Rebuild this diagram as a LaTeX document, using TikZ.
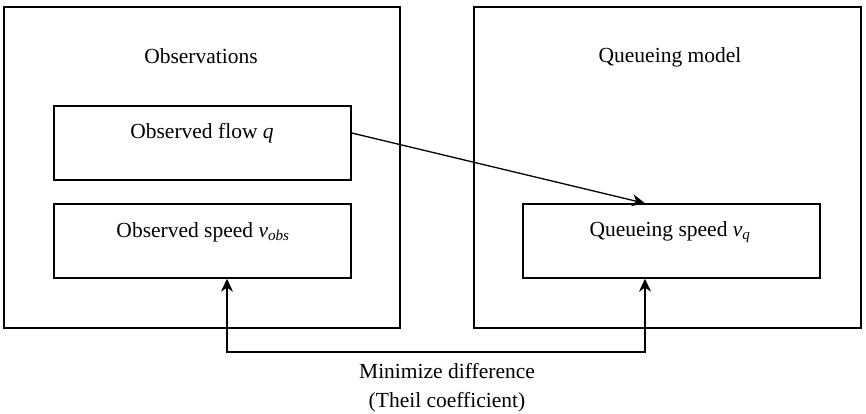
\documentclass[tikz,border=0pt]{standalone}
\usepackage{fontspec}
\setmainfont{Liberation Serif}
\usetikzlibrary{arrows.meta}
\begin{document}
\begin{tikzpicture}[x=1pt,y=-1pt,
  outerbox/.style={draw,line width=1.4pt,minimum width=396pt,minimum height=321pt,inner sep=0pt},
  innerbox/.style={draw,line width=1.4pt,minimum width=297pt,minimum height=74pt,inner sep=0pt},
  lbl/.style={font=\fontsize{21.5}{25}\selectfont,inner sep=0pt},
  conn/.style={line width=1.3pt},
  ah/.tip={Stealth[length=13pt,width=12pt,inset=4pt]},
  tip/.style={-ah}
]
\useasboundingbox (0,0) rectangle (866,414);
% outer boxes
\node[outerbox] (obs) at (202,167.5) {};
\node[outerbox, minimum width=387pt] (qm) at (667.5,167.5) {};
\node[lbl] (obst) at (201,56) {Observations};
\node[lbl] (qmt) at (670,57) {Queueing model};
% inner boxes
\node[innerbox] (fl) at (202.5,143) {};
\node[innerbox] (os) at (202.5,241) {};
\node[innerbox] (qs) at (671.5,241) {};
\node[lbl] (flt) at (202,133) {Observed flow \textit{q}};
\node[lbl] (ost) at (203,232) {Observed speed \textit{v}\textsubscript{\textit{obs}}};
\node[lbl] (qst) at (670,232) {Queueing speed \textit{v}\textsubscript{\textit{q}}};
% connectors
\coordinate (c1) at (227,352);
\coordinate (c2) at (645,352);
\draw[conn,tip] (fl.east |- flt) -- (qs.north -| c2);
\draw[conn,ah-ah] (os.south -| c1) -- (c1) -- (c2) -- (qs.south -| c2);
\node[lbl,align=center] (md) at (447,388) {Minimize difference\\[4pt](Theil coefficient)};
\end{tikzpicture}
\end{document}
